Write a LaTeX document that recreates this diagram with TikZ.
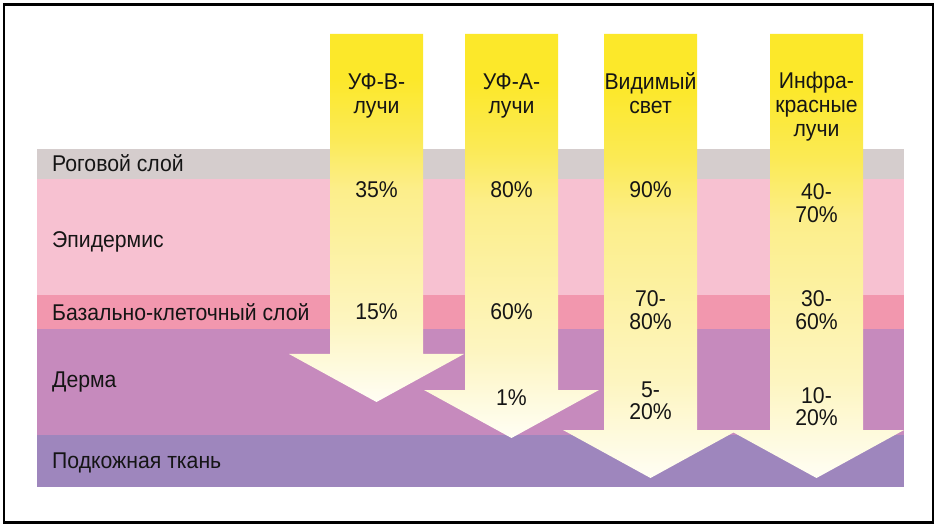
\documentclass[tikz,border=0pt]{standalone}
\usepackage{fontspec}
\setmainfont[FakeStretch=0.93]{Liberation Sans}
\definecolor{rog}{HTML}{D5CDCD}
\definecolor{epi}{HTML}{F7C1D1}
\definecolor{baz}{HTML}{F297AE}
\definecolor{derm}{HTML}{C68ABD}
\definecolor{subc}{HTML}{9E86BD}
\definecolor{ink}{HTML}{151515}
\definecolor{rayA}{HTML}{FFFEF4}
\definecolor{rayB}{HTML}{FDF5C0}
\definecolor{rayC}{HTML}{FCEE8A}
\definecolor{rayD}{HTML}{FBEA55}
\definecolor{rayE}{HTML}{FCE82A}
\pgfdeclareverticalshading{rayshade}{100bp}{color(0bp)=(rayA); color(25bp)=(rayA); color(36bp)=(rayB); color(54bp)=(rayC); color(61bp)=(rayD); color(69bp)=(rayE); color(100bp)=(rayE)}
\begin{document}
\begin{tikzpicture}[x=1pt,y=-1pt,
  ray/.style={shading=rayshade, draw=none},
  lbl/.style={inner sep=0pt, anchor=base west, text=ink, font=\fontsize{22.8}{24}\selectfont},
  ttl/.style={inner sep=0pt, anchor=base, text=ink, font=\fontsize{22.8}{24}\selectfont},
  pct/.style={inner sep=0pt, anchor=base, text=ink, font=\fontsize{22.8}{22}\selectfont}]
\useasboundingbox (0,0) rectangle (940,529);
\fill[white] (0,0) rectangle (940,529);
% layers
\fill[rog]  (37,149) rectangle (904,179);
\fill[epi]  (37,179) rectangle (904,295);
\fill[baz]  (37,295) rectangle (904,329);
\fill[derm] (37,329) rectangle (904,435);
\fill[subc] (37,435) rectangle (904,487);
% arrows
\path[ray] (330,34) -- (423,34) -- (423,354) -- (464,354) -- (376.5,402) -- (289,354) -- (330,354) -- cycle;
\path[ray] (465,34) -- (558,34) -- (558,390) -- (599,390) -- (511.5,438) -- (424,390) -- (465,390) -- cycle;
\path[ray] (604,34) -- (697,34) -- (697,430) -- (738,430) -- (650.5,478) -- (563,430) -- (604,430) -- cycle;
\path[ray] (770,34) -- (863,34) -- (863,430) -- (904,430) -- (816.5,478) -- (729,430) -- (770,430) -- cycle;
% layer labels
\node[lbl] (l1) at (52,172) {Роговой слой};
\node[lbl] (l2) at (52,248) {Эпидермис};
\node[lbl] (l3) at (52,321) {Базально-клеточный слой};
\node[lbl] (l4) at (52,388) {Дерма};
\node[lbl] (l5) at (52,468) {Подкожная ткань};
% ray titles
\node[ttl] (t1) at (376.5,90) {\begin{tabular}[t]{@{}c@{}}УФ-В-\\лучи\end{tabular}};
\node[ttl] (t2) at (511.5,90) {\begin{tabular}[t]{@{}c@{}}УФ-А-\\лучи\end{tabular}};
\node[ttl] (t3) at (650.5,90) {\begin{tabular}[t]{@{}c@{}}Видимый\\свет\end{tabular}};
\node[ttl] (t4) at (816.5,89) {\begin{tabular}[t]{@{}c@{}}Инфра-\\красные\\лучи\end{tabular}};
% percentages
\node[pct] (p11) at (376.5,198) {35\%};
\node[pct] (p21) at (511.5,198) {80\%};
\node[pct] (p31) at (650.5,198) {90\%};
\node[pct] (p41) at (816.5,200) {\begin{tabular}[t]{@{}c@{}}40-\\70\%\end{tabular}};
\node[pct] (p12) at (376.5,320) {15\%};
\node[pct] (p22) at (511.5,320) {60\%};
\node[pct] (p32) at (650.5,307) {\begin{tabular}[t]{@{}c@{}}70-\\80\%\end{tabular}};
\node[pct] (p42) at (816.5,307) {\begin{tabular}[t]{@{}c@{}}30-\\60\%\end{tabular}};
\node[pct] (p23) at (511.5,405) {1\%};
\node[pct] (p33) at (650.5,397) {\begin{tabular}[t]{@{}c@{}}5-\\20\%\end{tabular}};
\node[pct] (p43) at (816.5,403) {\begin{tabular}[t]{@{}c@{}}10-\\20\%\end{tabular}};
% frame
\draw[line width=2.5pt, black] (3.8,4.3) rectangle (933,522.3);
\end{tikzpicture}
\end{document}
